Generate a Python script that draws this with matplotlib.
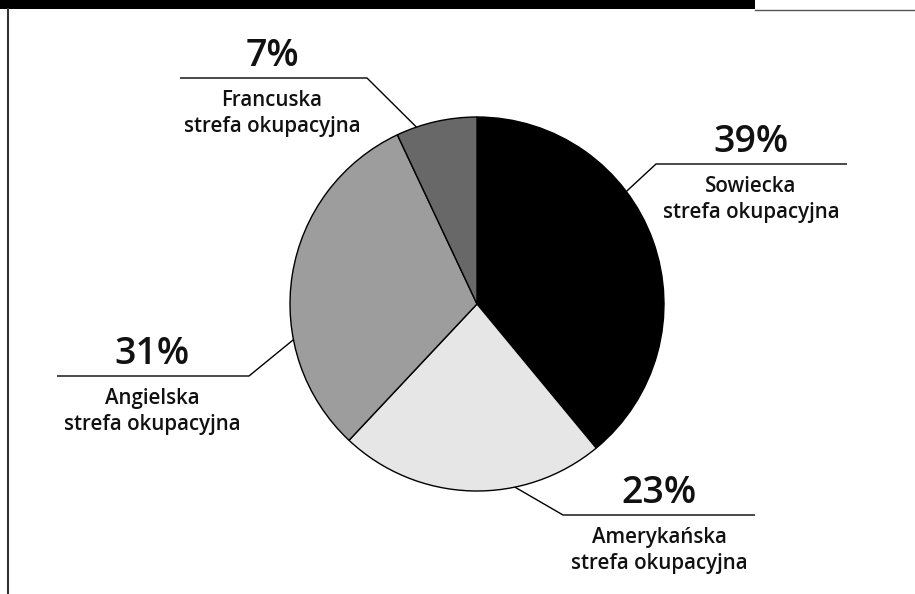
import numpy as np
import matplotlib.pyplot as plt
from matplotlib.patches import Rectangle

plt.rcParams['font.family'] = ['Open Sans', 'DejaVu Sans']

zones = ["Sowiecka", "Amerykańska", "Angielska", "Francuska"]
shares = [39, 23, 31, 7]
colors = ["#000000", "#e6e6e6", "#9d9d9d", "#686868"]

W, H = 915, 594
cx, cy, r = 477, 304, 187   # pie centre / radius in pixels, y from top

# where each label sits: text centre x, shelf line (x0, x1, y), knee x, angle of leader on pie edge
layout = {
    "Sowiecka":    dict(tx=751, shelf=(656, 847, 164), knee=656, edge=37.0),
    "Amerykańska": dict(tx=659, shelf=(563, 755, 515), knee=563, edge=-78.3),
    "Angielska":   dict(tx=152, shelf=(57, 249, 376), knee=249, edge=191.0),
    "Francuska":   dict(tx=272, shelf=(180, 367, 78), knee=367, edge=108.9),
}

fig = plt.figure(figsize=(W / 100, H / 100), dpi=100)
ax = fig.add_axes([0, 0, 1, 1])

ax.pie(shares, colors=colors, startangle=90, counterclock=False,
       center=(cx, H - cy), radius=r,
       wedgeprops=dict(edgecolor="black", linewidth=1.0))
ax.set_xlim(0, W)
ax.set_ylim(0, H)
ax.set_aspect("equal")
ax.axis("off")

for name, pct in zip(zones, shares):
    lay = layout[name]
    x0, x1, ys = lay["shelf"]
    a = np.deg2rad(lay["edge"])
    ex = cx + r * np.cos(a)
    ey = H - cy + r * np.sin(a)
    # leader: pie edge -> knee -> along the shelf
    other = x1 if lay["knee"] == x0 else x0
    ax.plot([ex, lay["knee"], other], [ey, H - ys, H - ys],
            color="black", lw=1.0, solid_capstyle="butt")
    ax.text(lay["tx"], H - (ys - 12), f"{pct}%", ha="center", va="baseline",
            fontsize=27, fontweight="semibold", color="#111111")
    ax.text(lay["tx"], H - (ys + 28), name, ha="center", va="baseline",
            fontsize=14.8, fontweight="semibold", color="#111111")
    ax.text(lay["tx"], H - (ys + 54), "strefa okupacyjna", ha="center", va="baseline",
            fontsize=14.8, fontweight="semibold", color="#111111")

# page furniture: black header bar, rule and left border
ax.add_patch(Rectangle((0, H - 9), 755, 9, color="black", lw=0))
ax.plot([755, W], [H - 9.8, H - 9.8], color="#555555", lw=1.0)
ax.plot([8, 8], [0, H - 9], color="#333333", lw=1.5)

fig.savefig("out.png", dpi=100)
